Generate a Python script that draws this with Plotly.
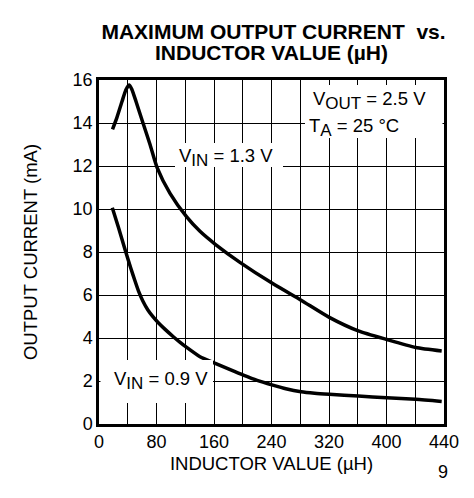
import plotly.graph_objects as go

# ---------------- data ----------------
# x axis drawn in 12 grid steps of 40 units; the right-edge step is labelled "440"
vin13_x = [18.8, 25.0, 32.0, 37.6, 42.2, 45.9, 51.5, 61.2, 71.0, 80.7, 98.8, 122.0,
           140.5, 161.8, 196.1, 241.7, 281.1, 320.4, 360.8, 400.3, 440.6, 476.8]
vin13_y = [13.70, 14.26, 15.00, 15.56, 15.77, 15.55, 15.00, 14.00, 13.00, 11.94, 10.73, 9.63,
           8.96, 8.36, 7.52, 6.53, 5.76, 4.96, 4.33, 3.93, 3.56, 3.40]

vin09_x = [18.5, 26.9, 36.2, 44.5, 50.0, 55.0, 61.0, 68.0, 75.0, 82.5, 92.0, 103.4, 112.0,
           122.0, 140.5, 161.8, 180.0, 201.7, 220.0, 241.7, 260.0, 281.1, 300.0, 320.4,
           360.8, 400.3, 440.6, 476.8]
vin09_y = [10.06, 9.16, 8.12, 7.22, 6.66, 6.18, 5.72, 5.30, 4.99, 4.71, 4.40, 4.06, 3.82,
           3.56, 3.13, 2.82, 2.56, 2.26, 2.03, 1.81, 1.64, 1.50, 1.43, 1.38,
           1.30, 1.22, 1.15, 1.05]

x_tickvals = [0, 80, 160, 240, 320, 400, 480]
x_ticktext = ["0", "80", "160", "240", "320", "400", "440"]
y_tickvals = [0, 2, 4, 6, 8, 10, 12, 14, 16]
y_ticktext = ["0", "2", "4", "6", "8", "10", "12", "14", "16"]

# ---------------- layout geometry ----------------
W, H = 474, 498
L, R, T, B = 99, 444, 80, 424
FONT = "Liberation Sans, Arial, Helvetica, sans-serif"


def px_x(px):
    return (px - L) / (R - L)


def px_y(py):
    return (B - py) / (B - T)


fig = go.Figure()
for xs, ys in [(vin13_x, vin13_y), (vin09_x, vin09_y)]:
    fig.add_trace(go.Scatter(x=xs, y=ys, mode="lines",
                             line=dict(color="black", width=3.5, shape="spline", smoothing=0.6),
                             showlegend=False, hoverinfo="skip"))

axis_common = dict(showline=True, linecolor="black", linewidth=2.5, mirror=True,
                   showgrid=True, gridcolor="black", gridwidth=1, zeroline=False,
                   automargin=False, layer="below traces",
                   ticks="", tickfont=dict(family=FONT, size=18, color="black"))

fig.update_layout(
    width=W, height=H,
    margin=dict(l=L, r=W - R, t=T, b=H - B, pad=0, autoexpand=False),
    paper_bgcolor="white", plot_bgcolor="white",
    font=dict(family=FONT, color="black"),
    title=dict(text="MAXIMUM OUTPUT CURRENT\u00a0 vs.",
               font=dict(family=FONT, size=21, color="black", weight="bold"),
               x=273.5 / W, xref="container", xanchor="center",
               y=1 - 32 / H, yref="container", yanchor="middle"),
    xaxis=dict(range=[0, 480], tickmode="array", tickvals=x_tickvals, ticktext=x_ticktext,
               minor=dict(dtick=40, tick0=0, showgrid=True, gridcolor="black", gridwidth=1),
               title=dict(text="INDUCTOR VALUE (µH)", font=dict(family=FONT, size=18.5),
                          standoff=6),
               **axis_common),
    yaxis=dict(range=[0, 16], tickmode="array", tickvals=y_tickvals, ticktext=y_ticktext,
               title=dict(text="OUTPUT CURRENT (mA)", font=dict(family=FONT, size=18.5),
                          standoff=31),
               **axis_common),
)

# white label boxes (they do not touch the curves or the frame)
for (x0, x1, y0, y1) in [(175, 283, 143, 167), (100.5, 213, 360, 403), (305, 442.5, 85, 138)]:
    fig.add_shape(type="rect", xref="paper", yref="paper",
                  x0=px_x(x0), x1=px_x(x1), y0=px_y(y1), y1=px_y(y0),
                  fillcolor="white", line=dict(width=0), layer="above")

sub = lambda s: '<sub><span style="font-size:17px">' + s + '</span></sub>'
labels = [
    ("V" + sub("IN") + " = 1.3 V", 176.5, 157),
    ("V" + sub("IN") + " = 0.9 V", 111.7, 380),
    ("V" + sub("OUT") + " = 2.5 V", 310.7, 100),
    ("T" + sub("A") + " = 25 °C", 307.0, 127),
]
for txt, lx, ly in labels:
    fig.add_annotation(text=txt, xref="paper", yref="paper", x=px_x(lx), y=px_y(ly),
                       xanchor="left", yanchor="middle", showarrow=False,
                       font=dict(family=FONT, size=18.5, color="black"))

fig.add_annotation(text="INDUCTOR VALUE (µH)", xref="paper", yref="paper",
                   x=px_x(271.5), y=px_y(52), xanchor="center", yanchor="middle",
                   showarrow=False, font=dict(family=FONT, size=21, color="black", weight="bold"))
fig.add_annotation(text="9", xref="paper", yref="paper", x=px_x(443), y=px_y(472),
                   xanchor="center", yanchor="middle", showarrow=False,
                   font=dict(family=FONT, size=18, color="black"))

fig.write_html("out.html", config={"displayModeBar": False},
               post_script="document.body.style.margin='0';")
